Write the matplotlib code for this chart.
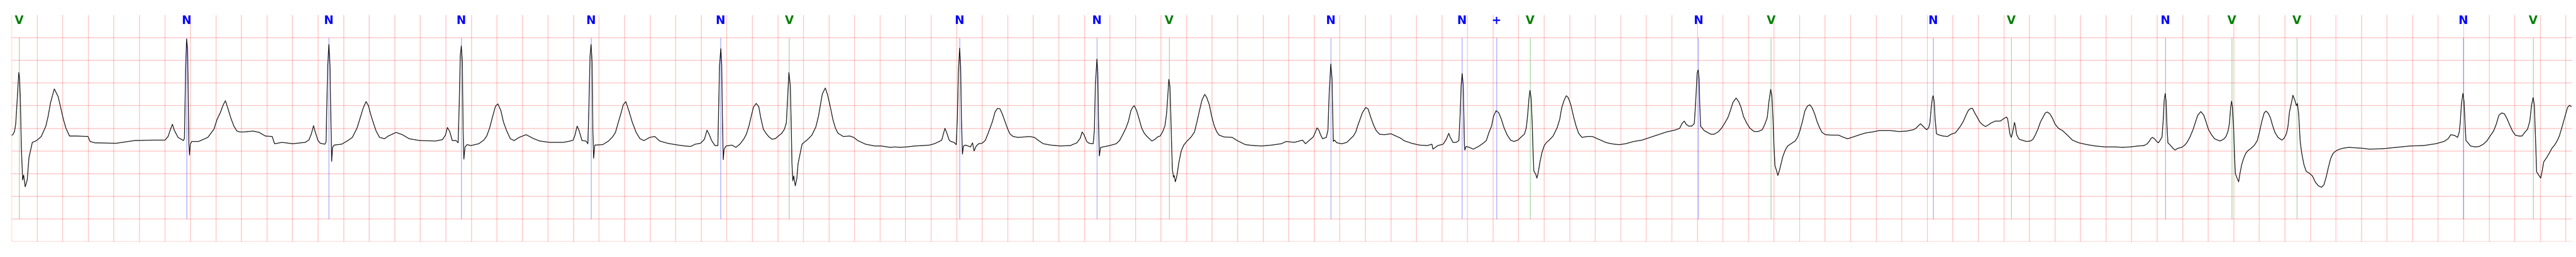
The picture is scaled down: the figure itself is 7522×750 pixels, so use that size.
import matplotlib
matplotlib.use("Agg")
import matplotlib.pyplot as plt
import numpy as np

# ECG trace keypoints (time in s, amplitude in mV)
ecg_t = [
    0.000, 0.010, 0.023, 0.032, 0.043, 0.056, 0.062, 0.068, 0.076, 0.086, 0.094, 0.106, 0.122, 0.136, 0.162, 0.196,
    0.232, 0.268, 0.286, 0.304, 0.334, 0.364, 0.388, 0.405, 0.424, 0.453, 0.507, 0.598, 0.614, 0.651, 0.818, 0.962,
    1.105, 1.201, 1.225, 1.244, 1.259, 1.273, 1.303, 1.345, 1.353, 1.363, 1.370, 1.378, 1.383, 1.388, 1.393, 1.399,
    1.410, 1.464, 1.536, 1.584, 1.609, 1.633, 1.657, 1.674, 1.692, 1.716, 1.740, 1.764, 1.786,
    1.819, 1.890, 1.938, 1.987, 2.040, 2.059, 2.118, 2.201, 2.298, 2.327, 2.346, 2.364, 2.375, 2.399, 2.417, 2.453,
    2.462, 2.475, 2.484, 2.493, 2.499, 2.506, 2.513, 2.525, 2.584, 2.633, 2.668, 2.705, 2.729, 2.753, 2.775, 2.794,
    2.812, 2.836, 2.854,
    2.858, 2.881, 2.920, 2.949, 3.011, 3.059, 3.113, 3.196, 3.319, 3.373, 3.397, 3.412, 3.430, 3.450, 3.481, 3.496,
    3.504, 3.513, 3.521, 3.529, 3.535, 3.541, 3.550, 3.566, 3.597, 3.658, 3.697, 3.720, 3.743, 3.766, 3.789, 3.807,
    3.831, 3.851, 3.874, 3.905, 3.935, 3.974, 4.028, 4.089, 4.135, 4.212, 4.320, 4.374, 4.397, 4.412, 4.428, 4.443,
    4.466, 4.497, 4.512, 4.520, 4.529, 4.537, 4.545, 4.551, 4.557, 4.566, 4.628, 4.674, 4.705, 4.728, 4.751, 4.774,
    4.789, 4.809, 4.836, 4.859, 4.890, 4.920, 4.951, 4.997, 5.036, 5.074, 5.136, 5.197, 5.271,
    5.317, 5.353, 5.394, 5.425, 5.445, 5.461, 5.481, 5.507, 5.530, 5.543, 5.553, 5.560, 5.565, 5.572, 5.579, 5.594,
    5.640, 5.671, 5.702, 5.732, 5.753, 5.773, 5.794, 5.809, 5.830, 5.850, 5.866, 5.886, 5.907, 5.927, 5.953, 5.979,
    5.999, 6.030, 6.051, 6.066, 6.076, 6.086, 6.097, 6.104, 6.110, 6.117, 6.124, 6.136, 6.148, 6.158, 6.174, 6.189,
    6.205, 6.235, 6.266, 6.297, 6.318, 6.333, 6.348, 6.371, 6.389, 6.410, 6.430, 6.451, 6.471, 6.512, 6.563, 6.594,
    6.625, 6.686, 6.758, 6.810, 6.880,
    6.918, 6.956, 7.008, 7.072, 7.136, 7.187, 7.225, 7.264, 7.283, 7.296, 7.308, 7.322, 7.341, 7.354, 7.379, 7.396,
    7.405, 7.413, 7.423, 7.431, 7.437, 7.445, 7.453, 7.469, 7.508, 7.524, 7.536, 7.553, 7.572, 7.598, 7.623, 7.642,
    7.662, 7.681, 7.700, 7.719, 7.739, 7.758, 7.777, 7.796, 7.816, 7.841, 7.880, 7.931, 7.970, 8.008, 8.046, 8.078,
    8.136, 8.213, 8.290, 8.341, 8.367, 8.382, 8.399, 8.418, 8.437, 8.469, 8.478, 8.486, 8.498, 8.505, 8.510, 8.517,
    8.527, 8.547, 8.598, 8.649, 8.675, 8.700, 8.726, 8.745, 8.764, 8.777, 8.790, 8.809, 8.828, 8.848, 8.867, 8.890,
    8.909, 8.928, 8.954, 8.973, 8.993, 9.012, 9.031, 9.044, 9.053, 9.061, 9.070, 9.076, 9.082, 9.089, 9.098, 9.103,
    9.112, 9.124, 9.140, 9.159, 9.178, 9.204, 9.236, 9.262, 9.281, 9.301, 9.320, 9.342, 9.358, 9.378, 9.397, 9.416,
    9.435, 9.455, 9.493, 9.557, 9.596, 9.660, 9.724, 9.788, 9.865, 9.942, 9.980, 10.044, 10.108, 10.131, 10.159, 10.192,
    10.208, 10.221, 10.234, 10.249, 10.265, 10.294, 10.307, 10.316, 10.329, 10.339, 10.344, 10.349, 10.358, 10.377, 10.416, 10.455,
    10.480, 10.506, 10.525, 10.538, 10.557, 10.576, 10.602, 10.621, 10.640, 10.666, 10.685, 10.711, 10.749, 10.801, 10.839, 10.878,
    10.901,
    10.921, 10.962, 11.024, 11.086, 11.121, 11.129, 11.168, 11.209, 11.234, 11.253, 11.265, 11.286, 11.311, 11.332, 11.342, 11.350,
    11.358, 11.366, 11.371, 11.375, 11.379, 11.388, 11.414, 11.445, 11.486, 11.522, 11.547, 11.568, 11.588, 11.604, 11.624, 11.645,
    11.665, 11.686, 11.711, 11.737, 11.763, 11.794, 11.824, 11.845, 11.860, 11.871, 11.881, 11.889, 11.898, 11.906, 11.912, 11.919,
    11.927, 11.935, 11.943, 11.952, 11.968, 11.983, 12.001, 12.019, 12.040, 12.070, 12.101, 12.122, 12.137, 12.155, 12.173, 12.188,
    12.209, 12.229, 12.250, 12.270, 12.296, 12.337, 12.378, 12.409, 12.450, 12.481, 12.509,
    12.548, 12.587, 12.638, 12.702, 12.766, 12.830, 12.894, 12.958, 13.022, 13.061, 13.080, 13.097, 13.112, 13.131, 13.157, 13.176,
    13.189, 13.198, 13.206, 13.213, 13.219, 13.225, 13.234, 13.253, 13.279, 13.305, 13.330, 13.362, 13.388, 13.413, 13.439, 13.458,
    13.478, 13.503, 13.523, 13.542, 13.561, 13.587, 13.612, 13.644, 13.676, 13.708, 13.728, 13.747, 13.760, 13.774, 13.783, 13.792,
    13.798, 13.807, 13.818, 13.830, 13.843, 13.856, 13.869, 13.888, 13.907, 13.933, 13.965, 13.984, 14.003, 14.023, 14.042, 14.061,
    14.080, 14.099, 14.119, 14.138, 14.157, 14.176, 14.202, 14.253, 14.305, 14.337, 14.375, 14.420, 14.472, 14.520,
    14.571, 14.623, 14.712, 14.777, 14.841, 14.892, 14.911, 14.931, 14.947, 14.962, 14.982, 14.995, 15.010, 15.020, 15.031, 15.040,
    15.046, 15.054, 15.061, 15.072, 15.085, 15.123, 15.158, 15.187, 15.219, 15.239, 15.258, 15.283, 15.303, 15.322, 15.341, 15.354,
    15.373, 15.392, 15.411, 15.437, 15.456, 15.475, 15.501, 15.533, 15.572, 15.597, 15.620, 15.629, 15.640, 15.648, 15.658, 15.668,
    15.677, 15.683, 15.689, 15.700, 15.719, 15.751, 15.777, 15.809, 15.828, 15.847, 15.866, 15.886, 15.905, 15.924, 15.941, 15.963,
    15.982, 16.001, 16.027, 16.059, 16.097, 16.136, 16.187, 16.251, 16.315, 16.392, 16.469, 16.531,
    16.591, 16.650, 16.698, 16.722, 16.740, 16.752, 16.764, 16.782, 16.796, 16.809, 16.824, 16.838, 16.848, 16.855, 16.863, 16.870,
    16.876, 16.884, 16.902, 16.920, 16.940, 16.962, 16.992, 17.016, 17.034, 17.057, 17.082, 17.100, 17.118, 17.142, 17.165, 17.183,
    17.201, 17.225, 17.249, 17.291, 17.321, 17.339, 17.354, 17.366, 17.375, 17.383, 17.390, 17.399, 17.405, 17.412, 17.426, 17.438,
    17.448, 17.462, 17.476, 17.494, 17.512, 17.536, 17.562, 17.584, 17.602, 17.620, 17.638, 17.652, 17.668, 17.686, 17.704, 17.722,
    17.746, 17.776, 17.794, 17.812, 17.824, 17.836, 17.848, 17.863, 17.878, 17.890, 17.898, 17.908, 17.920, 17.932, 17.949, 17.967,
    17.991, 18.015, 18.039, 18.063, 18.087, 18.105, 18.123, 18.140, 18.158, 18.176, 18.194, 18.219, 18.254, 18.302, 18.350, 18.408,
    18.461, 18.567, 18.673, 18.780, 18.886, 18.982, 19.046, 19.078, 19.099, 19.131, 19.152, 19.165, 19.173, 19.182, 19.194, 19.203,
    19.211, 19.218, 19.237, 19.253, 19.290, 19.322, 19.354, 19.381, 19.407, 19.434, 19.455, 19.476, 19.498, 19.519, 19.540, 19.561,
    19.582, 19.604, 19.631, 19.657, 19.678, 19.700, 19.718, 19.732, 19.744, 19.753, 19.758, 19.765, 19.771, 19.785, 19.803, 19.813,
    19.827, 19.849, 19.870, 19.891, 19.912, 19.933, 19.949, 19.965, 19.981, 19.997, 20.013, 20.029, 20.042,
]
ecg_mv = [
    -0.15, -0.14, -0.06, 0.10, 0.60, 1.23, 1.10, 0.66, -0.42, -1.14, -1.03, -1.29, -1.14, -0.64, -0.31, -0.27,
    -0.18, 0.05, 0.27, 0.56, 0.87, 0.70, 0.41, 0.20, 0.01, -0.17, -0.17, -0.18, -0.29, -0.32, -0.33, -0.27,
    -0.26, -0.26, -0.18, -0.02, 0.09, -0.04, -0.20, -0.27, -0.22, 1.39, 1.97, 1.75, 0.66, -0.35, -0.59, -0.35,
    -0.29, -0.29, -0.20, -0.02, 0.20, 0.34, 0.52, 0.61, 0.45, 0.23, 0.05, -0.06, -0.08,
    -0.08, -0.06, -0.09, -0.17, -0.18, -0.34, -0.31, -0.34, -0.31, -0.26, -0.13, 0.06, -0.06, -0.27, -0.33, -0.35,
    -0.30, 1.39, 1.85, 1.39, 0.30, -0.73, -0.42, -0.37, -0.35, -0.27, -0.20, 0.01, 0.23, 0.45, 0.59, 0.50,
    0.30, 0.09, -0.06,
    -0.08, -0.20, -0.23, -0.17, -0.09, -0.14, -0.23, -0.27, -0.28, -0.25, -0.15, 0.02, -0.07, -0.27, -0.27, -0.32,
    0.46, 1.60, 1.82, 1.47, -0.04, -0.68, -0.41, -0.36, -0.38, -0.34, -0.26, -0.17, 0.01, 0.26, 0.49, 0.54,
    0.39, 0.14, -0.04, -0.23, -0.27, -0.20, -0.14, -0.23, -0.28, -0.31, -0.31, -0.28, -0.26, -0.14, 0.05, -0.05,
    -0.27, -0.28, -0.34, 0.46, 1.60, 1.85, 1.47, -0.04, -0.66, -0.37, -0.36, -0.28, -0.19, -0.09, 0.14, 0.36,
    0.52, 0.59, 0.36, 0.14, -0.09, -0.23, -0.27, -0.20, -0.18, -0.28, -0.33, -0.36, -0.39,
    -0.40, -0.35, -0.33, -0.24, -0.04, -0.13, -0.27, -0.38, -0.38, 1.39, 1.76, 1.39, 0.30, -0.69, -0.46, -0.39,
    -0.37, -0.42, -0.35, -0.24, -0.13, 0.05, 0.30, 0.47, 0.55, 0.48, 0.23, -0.02, -0.11, -0.18, -0.24, -0.23,
    -0.18, -0.11, -0.02, 0.12, 0.66, 1.23, 0.95, 0.12, -0.78, -1.16, -1.05, -1.27, -1.11, -0.78, -0.56, -0.35,
    -0.31, -0.24, -0.15, 0.03, 0.27, 0.52, 0.76, 0.89, 0.74, 0.48, 0.20, 0.00, -0.11, -0.18, -0.17, -0.20,
    -0.27, -0.35, -0.39, -0.39, -0.42,
    -0.41, -0.42, -0.41, -0.39, -0.38, -0.37, -0.34, -0.29, -0.26, -0.12, 0.00, -0.10, -0.26, -0.29, -0.31, -0.36,
    0.21, 1.22, 1.77, 1.35, 0.21, -0.57, -0.39, -0.37, -0.41, -0.32, -0.50, -0.39, -0.34, -0.33, -0.27, -0.14,
    0.01, 0.16, 0.36, 0.44, 0.43, 0.31, 0.16, 0.01, -0.12, -0.18, -0.20, -0.19, -0.18, -0.20, -0.28, -0.34,
    -0.37, -0.39, -0.38, -0.32, -0.22, -0.08, -0.15, -0.29, -0.33, -0.34, -0.04, 0.97, 1.53, 1.22, 0.21, -0.61,
    -0.42, -0.41, -0.38, -0.34, -0.27, -0.14, 0.01, 0.16, 0.39, 0.46, 0.50, 0.39, 0.21, 0.01, -0.10, -0.18,
    -0.23, -0.28, -0.24, -0.19, -0.17, -0.08, 0.06, 0.34, 0.72, 1.08, 0.92, 0.34, -0.29, -0.92, -1.08, -1.04,
    -1.18, -1.05, -0.75, -0.49, -0.37, -0.28, -0.19, -0.08, 0.14, 0.39, 0.62, 0.75, 0.68, 0.52, 0.26, 0.06,
    -0.07, -0.15, -0.19, -0.20, -0.27, -0.36, -0.38, -0.39, -0.37, -0.34, -0.29, -0.31, -0.26, -0.34, -0.27, -0.19,
    -0.09, 0.01, -0.03, -0.14, -0.23, -0.20, -0.04, 0.72, 1.42, 1.10, 0.34, -0.29, -0.26, -0.32, -0.34, -0.31,
    -0.24, -0.17, -0.08, 0.04, 0.19, 0.34, 0.46, 0.43, 0.26, 0.06, -0.05, -0.13, -0.14, -0.12, -0.17, -0.22,
    -0.27,
    -0.29, -0.33, -0.37, -0.38, -0.35, -0.46, -0.38, -0.35, -0.24, -0.11, -0.20, -0.31, -0.31, -0.27, 0.30, 0.95,
    1.21, 0.95, 0.30, -0.35, -0.48, -0.40, -0.42, -0.46, -0.40, -0.33, -0.27, -0.09, 0.05, 0.27, 0.39, 0.34,
    0.20, 0.01, -0.15, -0.26, -0.29, -0.26, -0.18, -0.13, 0.01, 0.30, 0.66, 0.84, 0.66, 0.12, -0.42, -0.94,
    -0.98, -1.02, -1.10, -1.00, -0.73, -0.53, -0.38, -0.31, -0.26, -0.17, 0.01, 0.20, 0.45, 0.61, 0.72, 0.68,
    0.52, 0.27, 0.05, -0.11, -0.20, -0.18, -0.18, -0.22, -0.27, -0.31, -0.33,
    -0.35, -0.36, -0.34, -0.29, -0.26, -0.20, -0.14, -0.08, -0.04, 0.00, 0.11, 0.16, 0.09, 0.05, 0.05, 0.11,
    0.72, 1.22, 1.29, 1.10, 0.46, 0.04, 0.02, -0.05, -0.09, -0.13, -0.13, -0.08, 0.00, 0.11, 0.24, 0.39,
    0.57, 0.67, 0.59, 0.46, 0.26, 0.11, 0.00, -0.07, -0.07, -0.03, 0.09, 0.24, 0.59, 0.86, 0.72, 0.21,
    -0.29, -0.82, -0.92, -1.04, -0.92, -0.77, -0.62, -0.48, -0.39, -0.34, -0.28, -0.20, -0.05, 0.16, 0.39, 0.49,
    0.52, 0.45, 0.31, 0.14, 0.01, -0.09, -0.14, -0.15, -0.15, -0.19, -0.23, -0.19, -0.14, -0.10,
    -0.08, -0.05, -0.05, -0.07, -0.06, -0.03, 0.00, 0.06, 0.10, 0.06, 0.00, -0.03, 0.01, 0.11, 0.46, 0.67,
    0.72, 0.59, 0.21, -0.12, -0.14, -0.17, -0.18, -0.13, -0.10, -0.03, 0.04, 0.16, 0.29, 0.40, 0.44, 0.44,
    0.33, 0.24, 0.14, 0.07, 0.04, 0.07, 0.12, 0.16, 0.16, 0.21, 0.25, 0.21, 0.01, -0.14, -0.20, -0.09,
    0.04, 0.13, 0.06, -0.14, -0.24, -0.27, -0.29, -0.28, -0.24, -0.14, -0.02, 0.14, 0.24, 0.34, 0.36, 0.31,
    0.21, 0.09, 0.00, -0.05, -0.15, -0.26, -0.32, -0.36, -0.39, -0.41, -0.41, -0.42,
    -0.41, -0.39, -0.38, -0.34, -0.28, -0.22, -0.20, -0.24, -0.29, -0.32, -0.26, -0.19, 0.21, 0.62, 0.77, 0.59,
    0.09, -0.32, -0.37, -0.43, -0.48, -0.44, -0.42, -0.37, -0.31, -0.19, -0.02, 0.14, 0.29, 0.37, 0.29, 0.14,
    -0.02, -0.14, -0.23, -0.28, -0.24, -0.18, -0.07, 0.11, 0.46, 0.60, 0.46, -0.04, -0.55, -1.00, -1.10, -1.18,
    -1.00, -0.80, -0.67, -0.55, -0.49, -0.44, -0.37, -0.27, -0.07, 0.16, 0.34, 0.38, 0.34, 0.24, 0.06, -0.09,
    -0.20, -0.26, -0.22, -0.12, 0.04, 0.36, 0.52, 0.73, 0.62, 0.50, 0.55, 0.31, -0.29, -0.55, -0.80, -0.95,
    -0.99, -1.05, -1.19, -1.27, -1.30, -1.25, -1.08, -0.87, -0.67, -0.56, -0.51, -0.47, -0.44, -0.42, -0.43, -0.44,
    -0.46, -0.45, -0.42, -0.39, -0.38, -0.34, -0.29, -0.23, -0.14, -0.16, -0.20, -0.09, 0.12, 0.52, 0.77, 0.59,
    0.09, -0.27, -0.33, -0.39, -0.41, -0.40, -0.35, -0.28, -0.17, -0.06, 0.09, 0.29, 0.34, 0.32, 0.21, 0.07,
    -0.06, -0.15, -0.17, -0.17, -0.09, -0.02, 0.16, 0.52, 0.68, 0.52, 0.12, -0.42, -0.96, -1.02, -1.10, -0.96,
    -0.74, -0.65, -0.55, -0.44, -0.37, -0.27, -0.17, -0.02, 0.14, 0.30, 0.46, 0.51, 0.48,
]

# Beat annotations
beat_t = [0.059, 1.370, 2.483, 3.521, 4.537, 5.550, 6.088, 7.422, 8.498, 9.063, 10.329,
          11.357, 11.627, 11.890, 13.208, 13.776, 15.046, 15.658, 16.863, 17.385, 17.894,
          19.196, 19.745]
beat_sym = ["V", "N", "N", "N", "N", "N", "V", "N", "N", "V", "N",
            "N", "+", "V", "N", "V", "N", "V", "N", "V", "V",
            "N", "V"]
sym_color = {"N": "blue", "V": "green", "+": "blue"}

x_max = 20.05
y_min, y_max = -2.5, 2.5
grid_x = np.arange(0, 20.001, 0.2)
grid_y = np.arange(-2.5, 2.001, 0.5)

fig = plt.figure(figsize=(75.22, 7.5), dpi=100)
ax = fig.add_axes([34 / 7522, 45 / 750, 7477 / 7522, 661 / 750])
ax.set_xlim(0, x_max)
ax.set_ylim(y_min, y_max)
for s in ax.spines.values():
    s.set_visible(False)
ax.set_xticks([])
ax.set_yticks([])

ax.vlines(grid_x, y_min, y_max, colors="red", alpha=0.25, linewidth=1.5, zorder=1)
ax.hlines(grid_y, 0, x_max, colors="red", alpha=0.25, linewidth=1.5, zorder=1)

ax.plot(ecg_t, ecg_mv, color="black", linewidth=1.4, zorder=3)

for t, s in zip(beat_t, beat_sym):
    c = sym_color[s]
    ax.vlines(t, -2.0, 2.0, colors=c, alpha=0.5, linewidth=1.0, zorder=2)
    ax.text(t, 2.5, s, color=c, fontsize=24, fontweight="bold",
            ha="center", va="top", zorder=4)

fig.savefig("out.png", dpi=100, facecolor="white")
